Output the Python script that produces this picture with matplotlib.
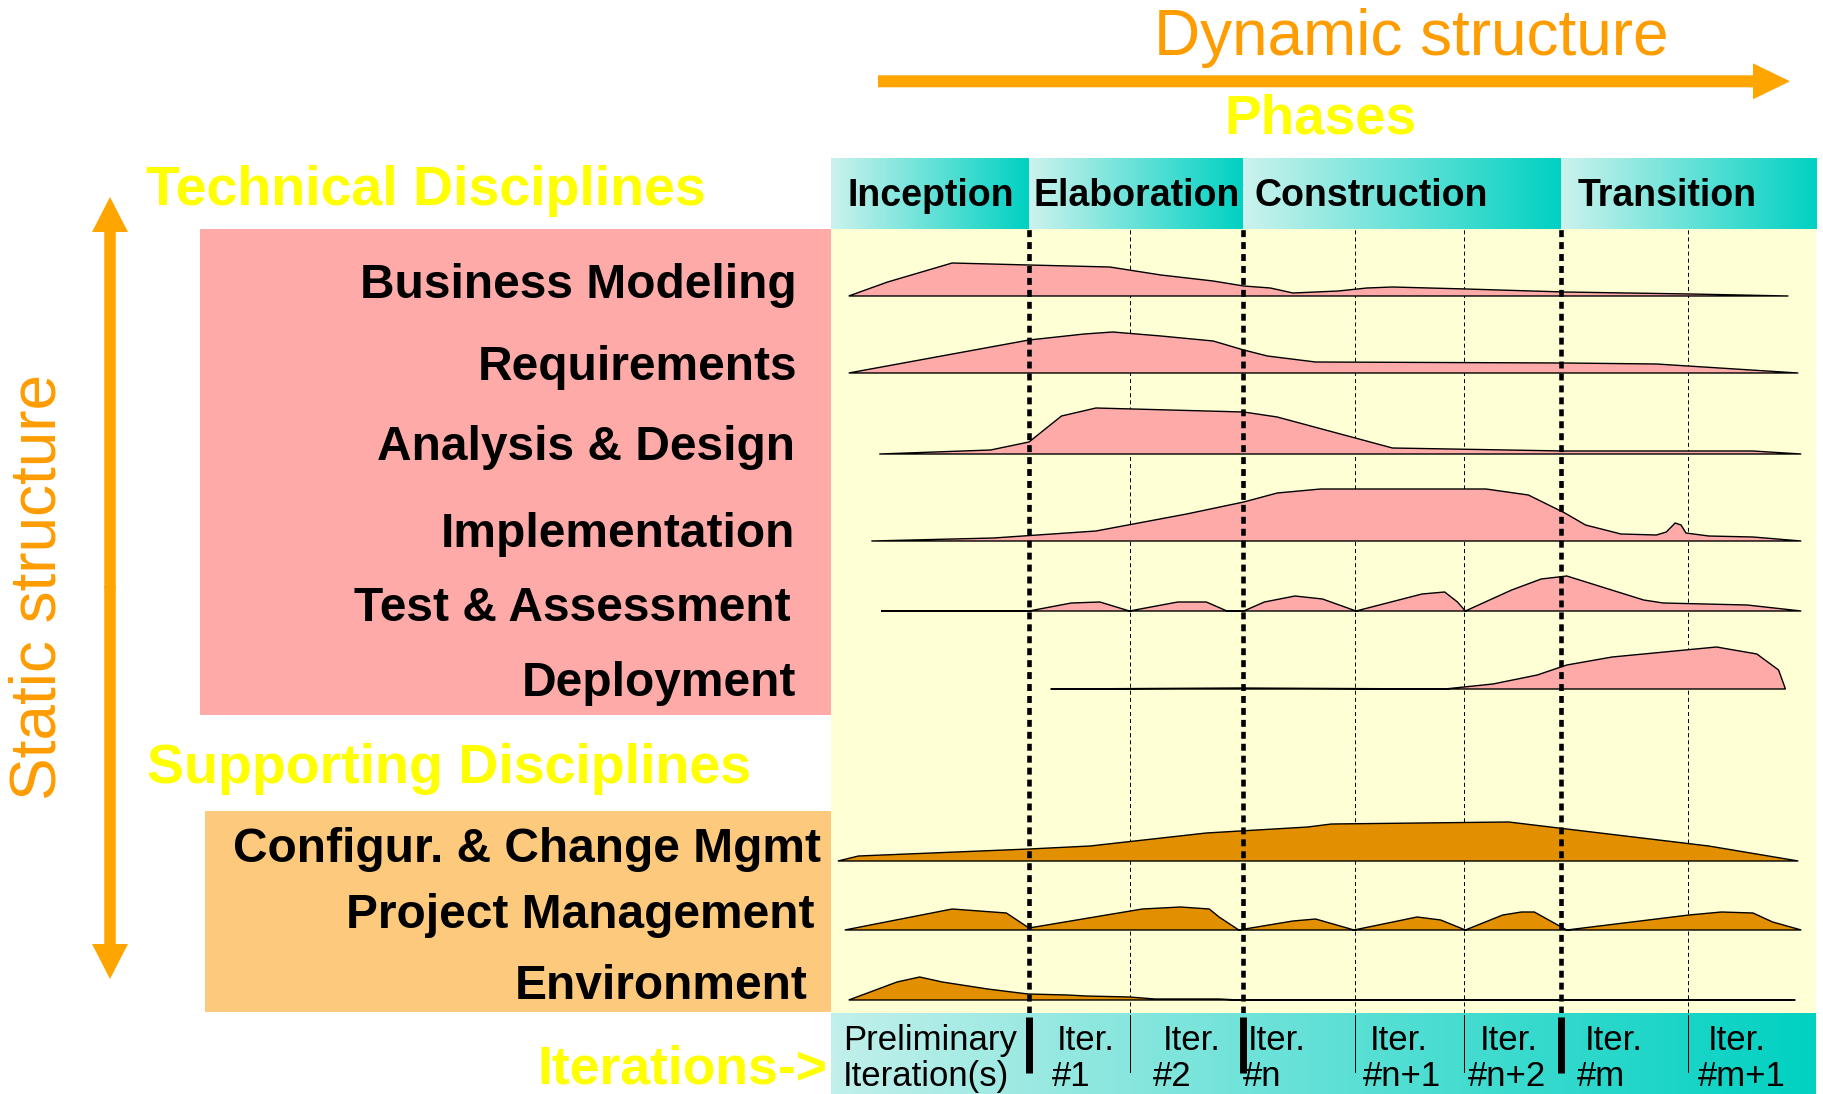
import numpy as np
import matplotlib.pyplot as plt
from matplotlib.patches import Rectangle, FancyArrow

plt.rcParams['font.family'] = ['Liberation Sans', 'DejaVu Sans']
plt.rcParams['lines.scale_dashes'] = False

# ---- data -------------------------------------------------------------
phases = ["Inception", "Elaboration", "Construction", "Transition"]
phase_ends = [20.1, 41.8, 74.1, 100.0]          # % of project timeline
iter_bounds = [0, 20.1, 30.4, 41.8, 53.2, 64.3, 74.1, 87.0, 100.0]
iter_line1 = ["Preliminary", "Iter.", "Iter.", "Iter.", "Iter.", "Iter.", "Iter.", "Iter."]
iter_line2 = ["Iteration(s)", "#1", "#2", "#n", "#n+1", "#n+2", "#m", "#m+1"]

technical = ["Business Modeling", "Requirements", "Analysis & Design",
             "Implementation", "Test & Assessment", "Deployment"]
supporting = ["Configur. & Change Mgmt", "Project Management", "Environment"]

# effort curves: timeline position (%) and relative effort
bm_t = [1.8, 5.75, 12.3, 20.1, 28.3, 33.5, 38.8, 41.9, 44.6, 46.9, 51.5, 54.4, 57.0, 64.5, 74.5, 87.3, 97.2]
bm_e = [0, 14, 33, 31, 29, 21, 15, 10, 8, 3, 5, 8, 9, 7, 4, 2, 0]

req_t = [1.8, 20.1, 25.7, 28.6, 33.5, 38.8, 41.9, 44.3, 49.2, 74.5, 83.8, 98.2]
req_e = [0, 33, 39, 41, 37, 32, 23, 17, 11, 10, 9, 0]

ad_t = [4.9, 16.2, 20.1, 23.4, 26.9, 41.9, 45.3, 57.0, 74.5, 93.6, 98.5]
ad_e = [0, 4, 12, 38, 46, 42, 37, 6, 3, 3, 0]

impl_t = [4.1, 16.5, 26.9, 36.1, 41.9, 45.3, 49.7, 66.5, 70.8, 74.5, 76.6, 80.2,
          83.8, 84.8, 85.7, 86.3, 86.8, 89.1, 93.6, 98.5]
impl_e = [0, 3, 10, 27, 39, 48, 52, 52, 46, 28, 16, 7, 6, 9, 18, 16, 8, 5, 4, 0]

test_t = [5.1, 20.1, 24.4, 27.3, 30.3, 35.2, 38.1, 40.2, 41.9, 44.0, 47.1, 49.9, 53.3,
          60.0, 62.3, 63.6, 64.4, 69.1, 72.1, 74.7, 82.5, 84.5, 93.0, 98.5]
test_e = [0, 0, 8, 9, 0, 9, 9, 0, 0, 9, 15, 12, 0, 17, 19, 9, 0, 21, 32, 35, 11, 8, 6, 0]

dep_t = [22.3, 41.4, 62.3, 67.2, 71.7, 74.7, 79.3, 89.9, 94.0, 96.2, 96.9]
dep_e = [0, 1, 0, 5, 14, 24, 32, 42, 35, 19, 0]

cfg_t = [0.7, 2.8, 20.1, 26.3, 38.1, 48.4, 50.8, 68.8, 74.7, 89.1, 98.2]
cfg_e = [0, 5, 12, 15, 28, 34, 37, 39, 32, 15, 0]

pm_t = [1.4, 12.3, 17.8, 20.1, 31.6, 35.5, 38.4, 39.4, 41.4, 46.9, 49.2, 53.1, 59.5,
        61.9, 64.4, 68.2, 70.1, 71.4, 74.7, 87.1, 90.4, 93.6, 95.6, 98.5]
pm_e = [0, 21, 17, 2, 21, 23, 21, 13, 0, 9, 11, 0, 13, 10, 0, 15, 18, 18, 0, 15, 18, 17, 8, 0]

env_t = [1.8, 6.7, 9.0, 11.3, 15.9, 20.0, 24.0, 25.9, 30.3, 32.9, 39.4, 41.4, 97.9]
env_e = [0, 18, 23, 18, 11, 6, 5, 4, 3, 1, 1, 0, 0]

curves = [(bm_t, bm_e), (req_t, req_e), (ad_t, ad_e), (impl_t, impl_e),
          (test_t, test_e), (dep_t, dep_e), (cfg_t, cfg_e), (pm_t, pm_e), (env_t, env_e)]

# ---- layout (pixels) ---------------------------------------------------
W, H = 1823, 1094
X0, X1 = 831, 1816
HEAD_TOP, HEAD_BOT = 158, 229
BAR_TOP = 1013
baselines = [296, 373, 454, 541, 611, 689, 861, 930, 1000]
label_right = [797, 797, 795, 795, 791, 796, 821, 815, 808]
label_base = [298, 380, 460, 547, 621, 696, 862, 928, 999]

PINK = '#fdaaa9'
ORANGE_BOX = '#fdc97d'
ORANGE_FILL = '#e39000'
YELLOW_BG = '#ffffd5'
ARROW = '#ffa500'
TXT_ORANGE = '#ff9c00'
YELLOW = '#ffff00'


def tx(t):
    return X0 + np.asarray(t) * (X1 - X0) / 100.0


def gradient(ax, x0, x1, y0, y1, c0, c1):
    g = np.linspace(0, 1, 256)[None, :, None]
    img = np.array(c0)[None, None, :] * (1 - g) + np.array(c1)[None, None, :] * g
    ax.imshow(img, extent=(x0, x1, y1, y0), aspect='auto', interpolation='bilinear', zorder=1)


fig = plt.figure(figsize=(W / 100, H / 100), dpi=100)
base = fig.add_axes([0, 0, 1, 1])
base.axis('off')

# label boxes
base.add_patch(Rectangle((200, HEAD_BOT), X0 + 1 - 200, 715 - HEAD_BOT, color=PINK, lw=0))
base.add_patch(Rectangle((205, 811), X0 + 1 - 205, 1012 - 811, color=ORANGE_BOX, lw=0))

# phase header
light, teal = (0.80, 0.95, 0.93), (0.0, 0.82, 0.76)
starts = [0] + phase_ends[:-1]
for name, s, e in zip(phases, starts, phase_ends):
    gradient(base, tx(s), tx(e), HEAD_TOP, HEAD_BOT, light, teal)
label_left = [848, 1033, 1255, 1578]
for name, lx in zip(phases, label_left):
    base.text(lx, 205.5, name, fontsize=27, fontweight='bold', color='black',
              ha='left', va='baseline', zorder=3)

# iteration bar
gradient(base, X0, X1, BAR_TOP, H, (0.76, 0.94, 0.92), teal)
for b in iter_bounds[1:-1]:
    if b in phase_ends:
        base.plot([tx(b)] * 2, [1017, 1073], color='black', lw=5, solid_capstyle='butt', zorder=3)
    else:
        base.plot([tx(b)] * 2, [1015, 1072], color='black', lw=0.7, zorder=3)
x_line1 = [843, 1057, 1163, 1248, 1370, 1480, 1585, 1708]
x_line2 = [843, 1052, 1153, 1243, 1363, 1468, 1577, 1698]
for l1, l2, a, b in zip(iter_line1, iter_line2, x_line1, x_line2):
    base.text(a, 1050, l1, fontsize=25, color='black', ha='left', va='baseline', zorder=3)
    base.text(b, 1086, l2, fontsize=25, color='black', ha='left', va='baseline', zorder=3)

# arrows
base.add_patch(FancyArrow(878, 81.3, 1790 - 878, 0, width=12, head_width=36,
                          head_length=37, length_includes_head=True, color=ARROW, lw=0))
base.add_patch(FancyArrow(110, 588, 0, 197 - 588, width=11.5, head_width=36,
                          head_length=35, length_includes_head=True, color=ARROW, lw=0))
base.add_patch(FancyArrow(110, 586, 0, 979 - 586, width=11.5, head_width=36,
                          head_length=35, length_includes_head=True, color=ARROW, lw=0))

# titles
base.text(1154, 55, "Dynamic structure", fontsize=46, color=TXT_ORANGE, ha='left', va='baseline')
base.text(1224, 134, "Phases", fontsize=39.5, fontweight='bold', color=YELLOW, ha='left', va='baseline')
base.text(56, 587, "Static structure", fontsize=46, color=TXT_ORANGE, rotation=90,
          rotation_mode='anchor', ha='center', va='baseline')
base.text(146, 205, "Technical Disciplines", fontsize=40, fontweight='bold', color=YELLOW,
          ha='left', va='baseline')
base.text(147, 783, "Supporting Disciplines", fontsize=40, fontweight='bold', color=YELLOW,
          ha='left', va='baseline')
base.text(827, 1084, "Iterations->", fontsize=38.5, fontweight='bold', color=YELLOW,
          ha='right', va='baseline')

for name, xr, yb in zip(technical + supporting, label_right, label_base):
    base.text(xr, yb, name, fontsize=34.5, fontweight='bold', color='black', ha='right', va='baseline')

base.set_xlim(0, W)
base.set_ylim(H, 0)

# ---- hump chart --------------------------------------------------------
hx = fig.add_axes([X0 / W, 1 - BAR_TOP / H, (X1 - X0) / W, (BAR_TOP - HEAD_BOT) / H])
hx.set_facecolor(YELLOW_BG)
for s in hx.spines.values():
    s.set_visible(False)
hx.set_xticks([])
hx.set_yticks([])
hx.set_xlim(0, 100)
hx.set_ylim(BAR_TOP, HEAD_BOT)

for i, ((t, e), y0) in enumerate(zip(curves, baselines)):
    fc = PINK if i < len(technical) else ORANGE_FILL
    ys = y0 - np.asarray(e, dtype=float)
    hx.fill(t, ys, facecolor=fc, edgecolor='black', lw=1.0, zorder=2)

for b in iter_bounds[1:-1]:
    if b in phase_ends:
        hx.axvline(b, color='black', lw=3.3, linestyle=(0, (5, 3.6)), zorder=3)
    else:
        hx.axvline(b, color='black', lw=0.7, linestyle=(0, (2.9, 2.2)), zorder=1)

fig.savefig('out.png', dpi=100)
